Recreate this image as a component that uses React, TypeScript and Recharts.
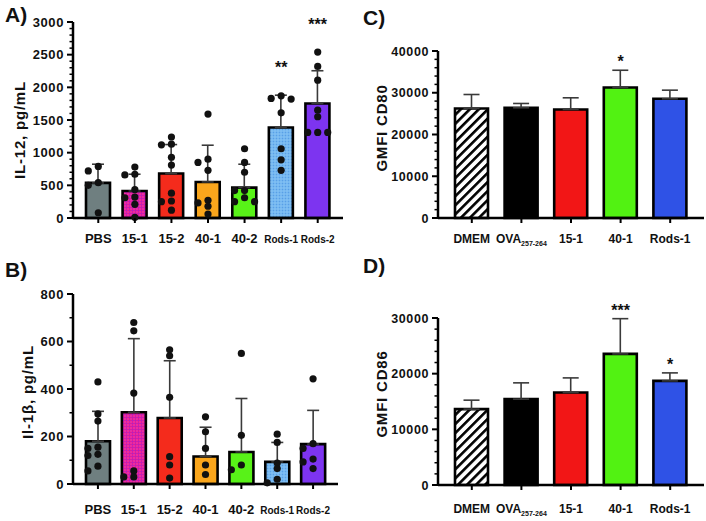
import React from 'react';
import { ComposedChart, Bar, XAxis, YAxis, Scatter, ErrorBar, Cell } from 'recharts';

// --- panels A/B: cytokines (pg/mL) ---
const cytoCats = ['PBS', '15-1', '15-2', '40-1', '40-2', 'Rods-1', 'Rods-2'];
const cytoFills = ['#6f7f80', 'pink', '#f42b1c', '#faa61c', '#58f218', 'blue', '#7d34f0'];

const il12Mean = [537, 414, 680, 552, 465, 1385, 1753];
const il12Sd = [286, 256, 444, 562, 358, 495, 501];
const il12Dots = [
  [790, 720, 540, 500, 80],
  [780, 670, 660, 435, 320, 310, 210, 10],
  [1240, 1130, 1120, 930, 810, 380, 260, 250, 120],
  [1590, 900, 850, 730, 270, 230, 180, 60],
  [1060, 850, 700, 420, 420, 310, 250, 250],
  [1870, 1830, 1820, 1610, 1060, 890, 730],
  [2540, 2320, 2110, 1650, 1550, 1310, 1310, 1310],
];
const il12Stars = ['', '', '', '', '', '**', '***'];

const il1bMean = [180, 302, 278, 116, 135, 93, 168];
const il1bSd = [126, 310, 241, 123, 225, 82, 142];
const il1bDots = [
  [430, 295, 265, 155, 150, 125, 120, 75, 55],
  [680, 645, 383, 55, 30, 30],
  [565, 540, 365, 115, 80, 25],
  [283, 220, 150, 80, 40],
  [550, 205, 80, 60],
  [210, 175, 88, 65, 20, 5],
  [443, 170, 150, 105, 93, 65],
];

// --- panels C/D: GMFI ---
const gmfiCats = ['DMEM', 'OVA', '15-1', '40-1', 'Rods-1'];
const gmfiFills = ['hatch', '#000000', '#f21616', '#52f212', '#2f52e6'];

const cd80Mean = [26240, 26400, 26000, 31250, 28550];
const cd80Sd = [3340, 1030, 2790, 4140, 2070];
const cd80Stars = ['', '', '', '*', ''];

const cd86Mean = [13625, 15420, 16610, 23550, 18700];
const cd86Sd = [1615, 2930, 2630, 6330, 1440];
const cd86Stars = ['', '', '', '***', '*'];

const FONT = 'Liberation Sans, Arial, Helvetica, sans-serif';
const X_AXIS_H = 30;

// spread overlapping dots sideways, like a column scatter
function spread(vals: number[], pxPerUnit: number, step: number) {
  const placed: { v: number; dx: number }[] = [];
  return vals.map((v) => {
    const cands = [0, -step, step, -2 * step, 2 * step];
    const dx =
      cands.find((c) => placed.every((p) => p.dx !== c || Math.abs(p.v - v) * pxPerUnit >= 5)) ?? 0;
    placed.push({ v, dx });
    return dx;
  });
}

type PanelProps = {
  id: string;
  left: number;
  top: number;
  width: number;
  height: number;
  margin: { top: number; right: number; bottom: number; left: number };
  yWidth: number;
  cats: string[];
  means: number[];
  sds: number[];
  fills: string[];
  dots?: number[][];
  stars?: string[];
  starGap: number;
  yMax: number;
  majorStep: number;
  minorStep: number;
  letter: string;
  letterPos: [number, number];
  yLabel: string;
  yLabelPos: [number, number];
  barSize: number;
  pad: number;
  capHalf: number;
  catFont: number;
  smallFont: number;
  labelDy: number;
  yTickFont: number;
};

function Panel(p: PanelProps) {
  const plotH = p.height - p.margin.top - p.margin.bottom - X_AXIS_H;
  const pxPerUnit = plotH / p.yMax;
  const data = p.cats.map((c, i) => ({ cat: c, mean: p.means[i], err: [0, p.sds[i]] }));
  const dotData = p.dots
    ? p.dots.flatMap((vals, i) => {
        const dx = spread(vals, pxPerUnit, 10);
        return vals.map((v, j) => ({ cat: p.cats[i], v, dx: dx[j] }));
      })
    : [];
  const starData = p.stars
    ? p.cats.map((c, i) => ({
        cat: c,
        v: Math.max(p.means[i] + p.sds[i], ...(p.dots ? p.dots[i] : [0])),
        s: p.stars![i],
      }))
    : [];
  const ticks: number[] = [];
  for (let t = 0; t <= p.yMax; t += p.minorStep) ticks.push(t);

  const fillOf = (f: string) =>
    f === 'pink' || f === 'blue' || f === 'hatch' ? `url(#${p.id}-${f})` : f;

  const YTick = (props: any) => {
    const { x, y, payload } = props;
    const v = payload.value as number;
    const major = v % p.majorStep === 0;
    return (
      <g>
        <line x1={x} x2={x - (major ? 6 : 3.5)} y1={y} y2={y} stroke="#000" strokeWidth={major ? 2 : 1.5} />
        {major && (
          <text
            x={x - 9}
            y={y}
            dy={p.yTickFont * 0.36}
            textAnchor="end"
            fontFamily={FONT}
            fontWeight="bold"
            fontSize={p.yTickFont}
            letterSpacing={0.6}
            fill="#111"
          >
            {v}
          </text>
        )}
      </g>
    );
  };

  const XTick = (props: any) => {
    const { x, y, payload } = props;
    const v = payload.value as string;
    const small = v.startsWith('Rods') && p.dots;
    return (
      <g>
        <line x1={x} x2={x} y1={y} y2={y + 5} stroke="#000" strokeWidth={2} />
        <text
          x={x}
          y={y + p.labelDy}
          textAnchor="middle"
          fontFamily={FONT}
          fontWeight="bold"
          fontSize={small ? p.smallFont : p.catFont}
          fill="#111"
        >
          {v === 'OVA' ? (
            <>
              OVA
              <tspan fontSize={7} dy={3}>
                257-264
              </tspan>
            </>
          ) : (
            v
          )}
        </text>
      </g>
    );
  };

  return (
    <div style={{ position: 'absolute', left: p.left, top: p.top }}>
      <ComposedChart width={p.width} height={p.height} data={data} margin={p.margin}>
        <defs>
          <pattern id={`${p.id}-hatch`} patternUnits="userSpaceOnUse" width={6.4} height={6.4} patternTransform="rotate(45)">
            <rect width={6.4} height={6.4} fill="#fff" />
            <rect width={2.6} height={6.4} fill="#000" />
          </pattern>
          <pattern id={`${p.id}-pink`} patternUnits="userSpaceOnUse" width={3} height={3}>
            <rect width={3} height={3} fill="#e0189c" />
            <rect width={1} height={1} fill="#9b2bd0" />
            <rect x={1.5} y={1.5} width={1} height={1} fill="#f470c6" />
          </pattern>
          <pattern id={`${p.id}-blue`} patternUnits="userSpaceOnUse" width={3} height={3}>
            <rect width={3} height={3} fill="#72b6f0" />
            <rect width={1} height={1} fill="#5a9ee6" />
            <rect x={1.5} y={1.5} width={1} height={1} fill="#a2d2f8" />
          </pattern>
        </defs>
        <text x={p.letterPos[0]} y={p.letterPos[1]} fontFamily={FONT} fontWeight="bold" fontSize={21} fill="#111">
          {p.letter}
        </text>
        <text
          x={p.yLabelPos[0]}
          y={p.yLabelPos[1]}
          transform={`rotate(-90 ${p.yLabelPos[0]} ${p.yLabelPos[1]})`}
          textAnchor="middle"
          dominantBaseline="central"
          fontFamily={FONT}
          fontWeight="bold"
          fontSize={15}
          letterSpacing={0.8}
          fill="#111"
        >
          {p.yLabel}
        </text>
        <XAxis
          dataKey="cat"
          type="category"
          allowDuplicatedCategory={false}
          height={X_AXIS_H}
          padding={{ left: p.pad, right: p.pad }}
          axisLine={{ stroke: '#000', strokeWidth: 2.5 }}
          tickLine={false}
          tickSize={0}
          tickMargin={0}
          interval={0}
          tick={<XTick />}
        />
        <YAxis
          type="number"
          domain={[0, p.yMax]}
          ticks={ticks}
          interval={0}
          width={p.yWidth}
          axisLine={{ stroke: '#000', strokeWidth: 2.5 }}
          tickLine={false}
          tickSize={0}
          tickMargin={0}
          tick={<YTick />}
        />
        <Bar dataKey="mean" barSize={p.barSize} stroke="#000" strokeWidth={2.6} isAnimationActive={false}>
          {data.map((d, i) => (
            <Cell key={d.cat} fill={fillOf(p.fills[i])} />
          ))}
          <ErrorBar dataKey="err" direction="y" width={p.capHalf} stroke="#3a3a3a" strokeWidth={1.6} isAnimationActive={false} />
        </Bar>
        {p.dots && (
          <Scatter
            data={dotData}
            dataKey="v"
            isAnimationActive={false}
            shape={(s: any) => <circle cx={s.cx + s.payload.dx} cy={s.cy} r={3.6} fill="#111" />}
          />
        )}
        {p.stars && (
          <Scatter
            data={starData}
            dataKey="v"
            isAnimationActive={false}
            shape={(s: any) =>
              s.payload.s ? (
                <text
                  x={s.cx}
                  y={s.cy - p.starGap + 8}
                  textAnchor="middle"
                  fontFamily={FONT}
                  fontWeight="bold"
                  fontSize={16}
                  fill="#111"
                >
                  {s.payload.s}
                </text>
              ) : (
                <g />
              )
            }
          />
        )}
      </ComposedChart>
    </div>
  );
}

export default function App() {
  return (
    <div style={{ position: 'absolute', left: 0, top: 0, width: 706, height: 521, background: '#fff' }}>
      <Panel
        id="a"
        left={0}
        top={0}
        width={350}
        height={255}
        margin={{ top: 22, right: 7, bottom: 7, left: 0 }}
        yWidth={73}
        cats={cytoCats}
        means={il12Mean}
        sds={il12Sd}
        fills={cytoFills}
        dots={il12Dots}
        stars={il12Stars}
        starGap={30}
        yMax={3000}
        majorStep={500}
        minorStep={100}
        letter="A)"
        letterPos={[5, 22]}
        yLabel="IL-12, pg/mL"
        yLabelPos={[19, 130]}
        barSize={24}
        pad={7}
        capHalf={6}
        catFont={13}
        smallFont={10}
        labelDy={25}
        yTickFont={13}
      />
      <Panel
        id="b"
        left={0}
        top={255}
        width={350}
        height={266}
        margin={{ top: 39, right: 12, bottom: 7, left: 0 }}
        yWidth={73}
        cats={cytoCats}
        means={il1bMean}
        sds={il1bSd}
        fills={cytoFills}
        dots={il1bDots}
        starGap={30}
        yMax={800}
        majorStep={200}
        minorStep={100}
        letter="B)"
        letterPos={[5, 22]}
        yLabel="Il-1β, pg/mL"
        yLabelPos={[27, 137]}
        barSize={24}
        pad={7}
        capHalf={6}
        catFont={13}
        smallFont={10}
        labelDy={30}
        yTickFont={13}
      />
      <Panel
        id="c"
        left={360}
        top={0}
        width={346}
        height={255}
        margin={{ top: 51, right: 2, bottom: 7, left: 0 }}
        yWidth={78}
        cats={gmfiCats}
        means={cd80Mean}
        sds={cd80Sd}
        fills={gmfiFills}
        stars={cd80Stars}
        starGap={11}
        yMax={40000}
        majorStep={10000}
        minorStep={2000}
        letter="C)"
        letterPos={[3, 25]}
        yLabel="GMFI CD80"
        yLabelPos={[21, 128]}
        barSize={33}
        pad={9}
        capHalf={8}
        catFont={12}
        smallFont={12}
        labelDy={25}
        yTickFont={12.5}
      />
      <Panel
        id="d"
        left={360}
        top={255}
        width={346}
        height={266}
        margin={{ top: 63, right: 2, bottom: 6, left: 0 }}
        yWidth={78}
        cats={gmfiCats}
        means={cd86Mean}
        sds={cd86Sd}
        fills={gmfiFills}
        stars={cd86Stars}
        starGap={11}
        yMax={30000}
        majorStep={10000}
        minorStep={2000}
        letter="D)"
        letterPos={[3, 18]}
        yLabel="GMFI CD86"
        yLabelPos={[21, 139]}
        barSize={33}
        pad={9}
        capHalf={8}
        catFont={12}
        smallFont={12}
        labelDy={28}
        yTickFont={12.5}
      />
    </div>
  );
}
